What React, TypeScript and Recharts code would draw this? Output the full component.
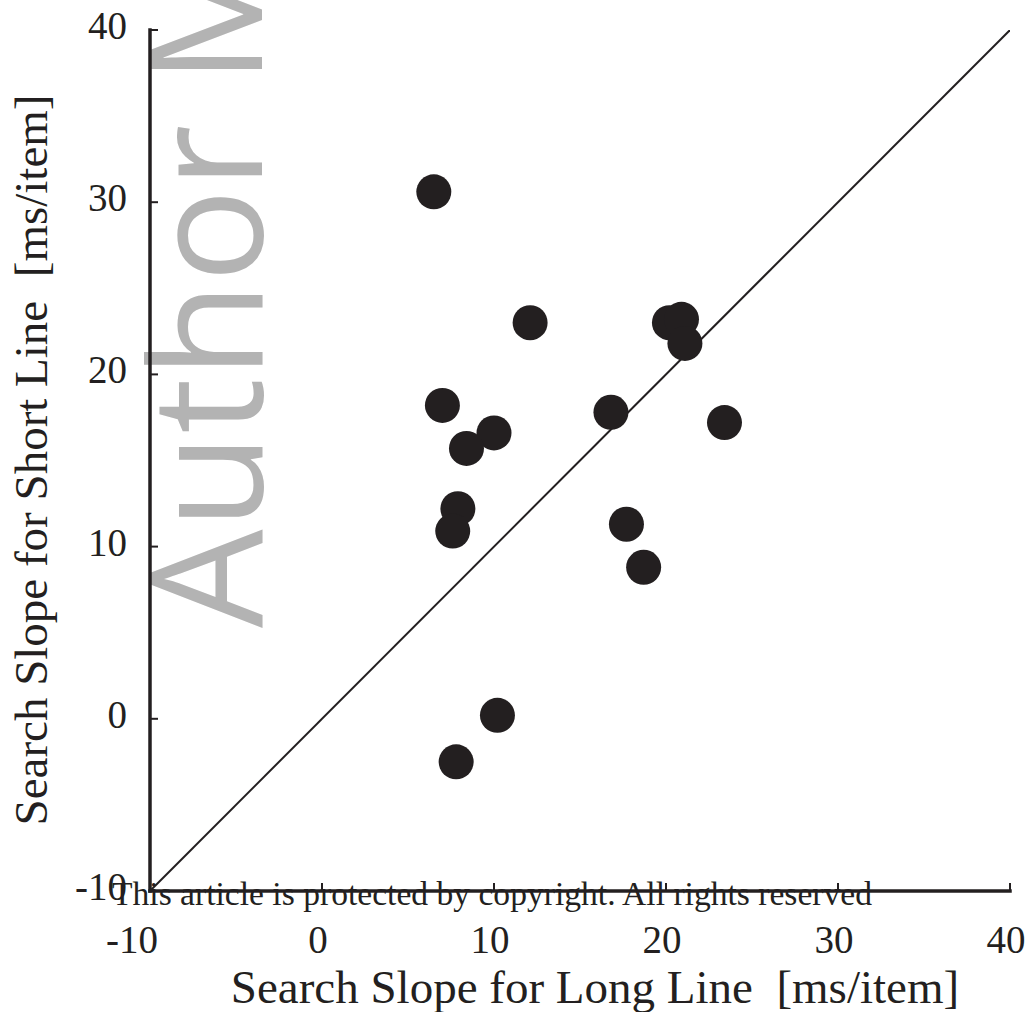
import { ScatterChart, Scatter, XAxis, YAxis } from "recharts"

// slopes per observer
const longSlope = [6.5, 12.1, 20.2, 20.9, 21.1, 7.0, 16.8, 23.4, 10.0, 8.4, 7.9, 7.6, 17.7, 18.7, 10.2, 7.8]
const shortSlope = [30.6, 23.0, 23.0, 23.2, 21.8, 18.2, 17.8, 17.2, 16.6, 15.7, 12.2, 10.9, 11.3, 8.8, 0.2, -2.5]
const axisTicks = [-10, 0, 10, 20, 30, 40]
const unityEnds = [-10, 40]

const ink = "#231f20"
const serif = "'Liberation Serif', 'Times New Roman', serif"

const points = longSlope.map((x, i) => ({ x, y: shortSlope[i] }))
const unity = unityEnds.map((v) => ({ x: v, y: v }))

function BottomTick({ x, y, payload }: any) {
  const v = payload.value
  return (
    <g>
      <line x1={x} y1={y} x2={x} y2={y - 8} stroke={ink} strokeWidth={2} />
      <text
        x={v === -10 ? x + 8 : x - 4}
        y={y + 62}
        textAnchor={v === -10 ? "end" : "middle"}
        fontFamily={serif}
        fontSize={39}
        fill={ink}
      >
        {v}
      </text>
    </g>
  )
}

function LeftTick({ x, y, payload }: any) {
  return (
    <g>
      <line x1={x} y1={y} x2={x + 8} y2={y} stroke={ink} strokeWidth={2} />
      <text x={x - 23} y={y + 9} textAnchor="end" fontFamily={serif} fontSize={39} fill={ink}>
        {payload.value}
      </text>
    </g>
  )
}

function TopTick({ x, y }: any) {
  return <line x1={x} y1={y} x2={x} y2={y + 8} stroke={ink} strokeWidth={2} />
}

function RightTick({ x, y }: any) {
  return <line x1={x} y1={y} x2={x - 8} y2={y} stroke={ink} strokeWidth={2} />
}

const frame = { stroke: ink, strokeWidth: 3.5, strokeLinecap: "square" as const }

export default function App() {
  return (
    <div style={{ position: "relative", width: 1029, height: 1012 }}>
      <style>{`body{margin:0}`}</style>
      <svg width={1029} height={1012} style={{ position: "absolute", left: 0, top: 0 }}>
        <text
          x={262}
          y={628}
          transform="rotate(-90, 262, 628)"
          fontFamily="'Open Sans', sans-serif"
          fontSize={156}
          fill="#b3b3b3"
        >
          Author Manuscript
        </text>
      </svg>
      <div style={{ position: "relative" }}>
        <ScatterChart width={1029} height={1012} margin={{ top: 30, right: 19, bottom: 0, left: 0 }}>
          <XAxis
            xAxisId="b"
            type="number"
            dataKey="x"
            domain={[-10, 40]}
            ticks={axisTicks}
            allowDataOverflow
            height={121}
            tickSize={0}
            tickMargin={0}
            tickLine={false}
            axisLine={frame}
            tick={<BottomTick />}
          />
          <XAxis
            xAxisId="t"
            orientation="top"
            type="number"
            dataKey="x"
            domain={[-10, 40]}
            ticks={axisTicks}
            allowDataOverflow
            height={0}
            tickSize={0}
            tickMargin={0}
            tickLine={false}
            axisLine={frame}
            tick={<TopTick />}
          />
          <YAxis
            yAxisId="l"
            type="number"
            dataKey="y"
            domain={[-10, 40]}
            ticks={axisTicks}
            allowDataOverflow
            width={150}
            tickSize={0}
            tickMargin={0}
            tickLine={false}
            axisLine={frame}
            tick={<LeftTick />}
          />
          <YAxis
            yAxisId="r"
            orientation="right"
            type="number"
            dataKey="y"
            domain={[-10, 40]}
            ticks={axisTicks}
            allowDataOverflow
            width={0}
            tickSize={0}
            tickMargin={0}
            tickLine={false}
            axisLine={frame}
            tick={<RightTick />}
          />
          <Scatter
            xAxisId="b"
            yAxisId="l"
            data={unity}
            line={{ stroke: ink, strokeWidth: 2 }}
            shape={() => <g />}
            isAnimationActive={false}
          />
          <Scatter
            xAxisId="b"
            yAxisId="l"
            data={points}
            shape={(p: any) => <circle cx={p.cx} cy={p.cy} r={17.5} fill={ink} />}
            isAnimationActive={false}
          />
        </ScatterChart>
      </div>
      <svg
        width={1029}
        height={1012}
        style={{ position: "absolute", left: 0, top: 0, pointerEvents: "none" }}
      >
        <text
          x={47}
          y={460}
          transform="rotate(-90, 47, 460)"
          textAnchor="middle"
          fontFamily={serif}
          fontSize={47}
          fill={ink}
          style={{ whiteSpace: "pre" }}
        >
          {"Search Slope for Short Line  [ms/item]"}
        </text>
        <text
          x={595}
          y={1003}
          textAnchor="middle"
          fontFamily={serif}
          fontSize={47}
          fill={ink}
          style={{ whiteSpace: "pre" }}
        >
          {"Search Slope for Long Line  [ms/item]"}
        </text>
        <text
          x={112}
          y={905}
          fontFamily={serif}
          fontSize={34}
          fill={ink}
          textLength={760}
          lengthAdjust="spacingAndGlyphs"
        >
          This article is protected by copyright. All rights reserved
        </text>
      </svg>
    </div>
  )
}
